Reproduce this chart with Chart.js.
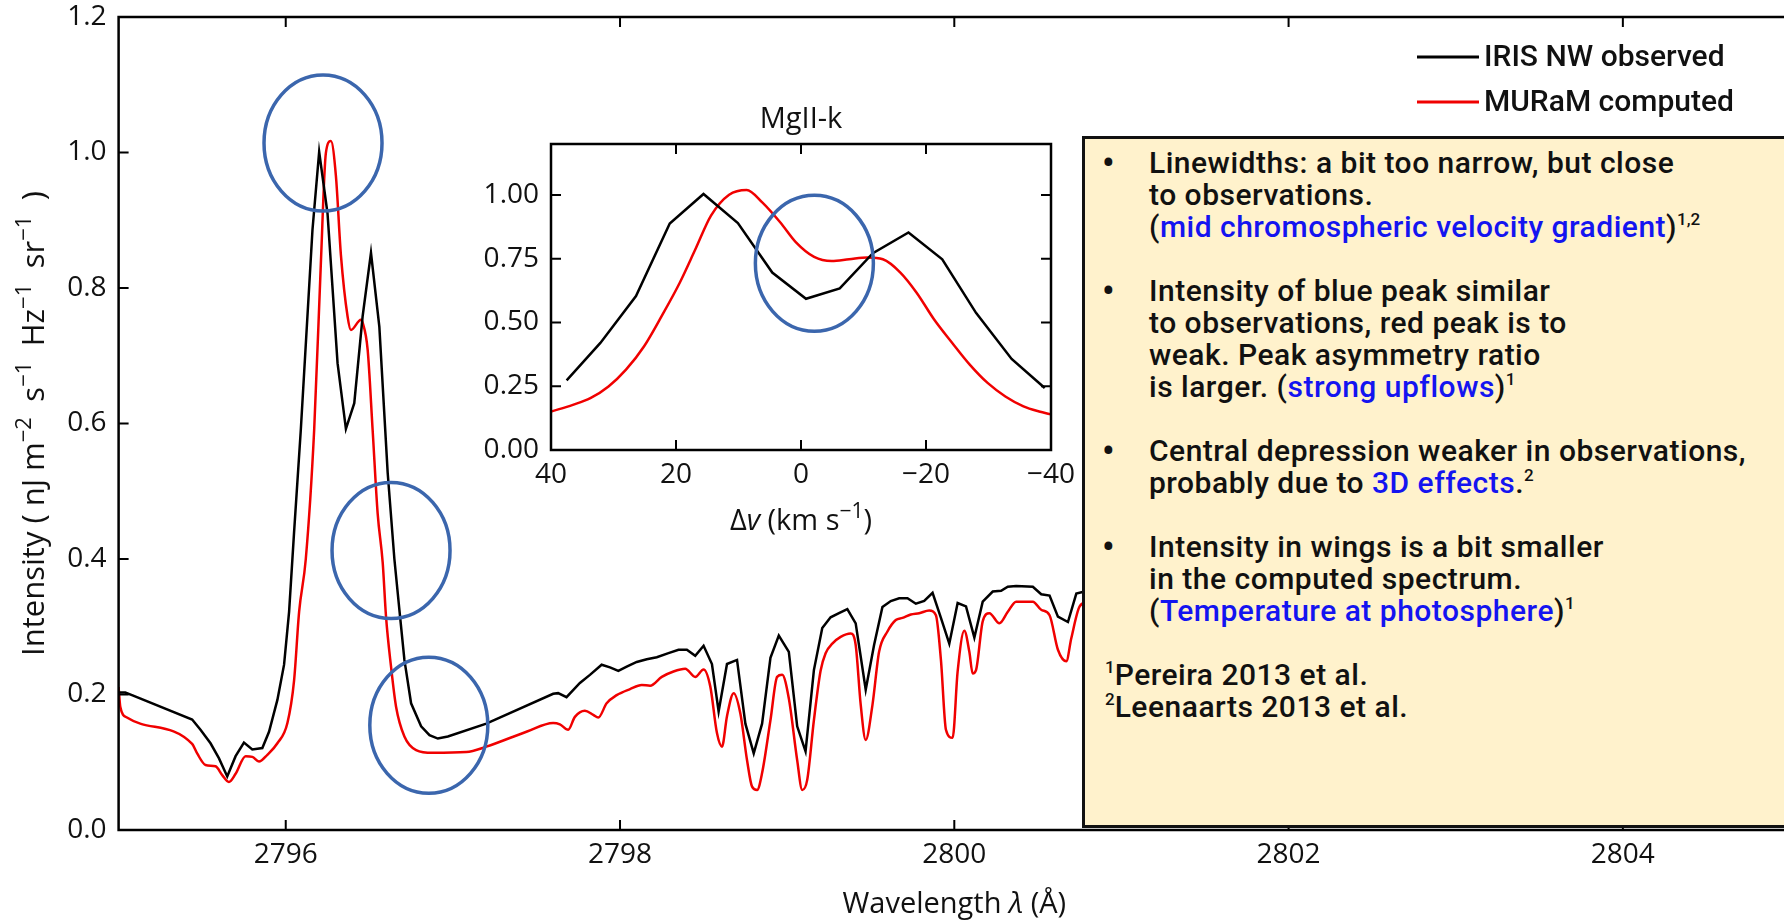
<!DOCTYPE html>
<html>
<head>
<meta charset="utf-8">
<title>MgII k: IRIS vs MURaM</title>
<script src="https://cdn.jsdelivr.net/npm/chart.js@4.4.1/dist/chart.umd.min.js"></script>
<style>
  html, body { margin: 0; padding: 0; background: #fff; }
  #page { position: relative; width: 1784px; height: 921px; overflow: hidden; }
  #mainCanvas { position: absolute; left: 0; top: 0; }
  #insetCanvas { position: absolute; left: 470px; top: 80px; }
  #notes {
    position: absolute; left: 1082px; top: 136px; width: 760px; height: 692px;
    box-sizing: border-box; border: 3px solid #111; background: #fff2cc;
    font-family: Roboto, sans-serif; font-weight: 500; font-size: 30px; line-height: 32px; color: #111;
    padding-top: 8px; letter-spacing: 0.5px;
  }
  .item { position: relative; padding-left: 64px; margin-bottom: 32px; white-space: nowrap; }
  .item .dot { position: absolute; left: 17px; top: 0; font-size: 36px; }
  .blue { color: #1414f0; }
  .sup { font-size: 17px; position: relative; top: -12px; line-height: 0; letter-spacing: 0; }
  .refs { padding-left: 20px; white-space: nowrap; }
</style>
</head>
<body>
<div id="page">
  <canvas id="mainCanvas" width="1790" height="921"></canvas>
  <canvas id="insetCanvas" width="620" height="470"></canvas>
  <div id="notes">
    <div class="item"><span class="dot">•</span>Linewidths: a bit too narrow, but close<br>to observations.<br>(<span class="blue">mid chromospheric velocity gradient</span>)<span class="sup">1,2</span></div>
    <div class="item"><span class="dot">•</span>Intensity of blue peak similar<br>to observations, red peak is to<br>weak. Peak asymmetry ratio<br>is larger. (<span class="blue">strong upflows</span>)<span class="sup">1</span></div>
    <div class="item"><span class="dot">•</span>Central depression weaker in observations,<br>probably due to <span class="blue">3D effects</span>.<span class="sup">2</span></div>
    <div class="item"><span class="dot">•</span>Intensity in wings is a bit smaller<br>in the computed spectrum.<br>(<span class="blue">Temperature at photosphere</span>)<span class="sup">1</span></div>
    <div class="refs"><span class="sup">1</span>Pereira 2013 et al.<br><span class="sup">2</span>Leenaarts 2013 et al.</div>
  </div>
</div>
<script>
/* Main spectrum: IRIS NW observed (black) */
const irisWave = [2795.00, 2795.04, 2795.08, 2795.44, 2795.49, 2795.55, 2795.60, 2795.65, 2795.70, 2795.75,
  2795.80, 2795.86, 2795.90, 2795.95, 2795.99, 2796.02, 2796.05, 2796.09, 2796.16, 2796.20,
  2796.25, 2796.31, 2796.36, 2796.41, 2796.46, 2796.51, 2796.56, 2796.61, 2796.65, 2796.68,
  2796.71, 2796.75, 2796.81, 2796.86, 2796.91, 2796.97, 2797.20, 2797.60, 2797.63, 2797.68,
  2797.76, 2797.82, 2797.89, 2797.94, 2797.99, 2798.04, 2798.10, 2798.16, 2798.22, 2798.29,
  2798.35, 2798.40, 2798.45, 2798.50, 2798.55, 2798.59, 2798.64, 2798.70, 2798.75, 2798.80,
  2798.85, 2798.90, 2798.95, 2799.01, 2799.06, 2799.11, 2799.16, 2799.21, 2799.26, 2799.31,
  2799.36, 2799.41, 2799.47, 2799.52, 2799.57, 2799.62, 2799.67, 2799.72, 2799.77, 2799.82,
  2799.87, 2799.92, 2799.97, 2800.02, 2800.07, 2800.12, 2800.17, 2800.23, 2800.28, 2800.32,
  2800.37, 2800.47, 2800.52, 2800.57, 2800.62, 2800.68, 2800.73, 2800.78, 2800.85];
const irisFlux = [0.203, 0.203, 0.199, 0.163, 0.148, 0.128, 0.106, 0.079, 0.109, 0.129,
  0.119, 0.121, 0.145, 0.192, 0.244, 0.322, 0.440, 0.590, 0.886, 1.001,
  0.910, 0.689, 0.592, 0.630, 0.758, 0.852, 0.743, 0.527, 0.400, 0.325,
  0.251, 0.187, 0.153, 0.140, 0.135, 0.138, 0.157, 0.201, 0.202, 0.196,
  0.217, 0.229, 0.244, 0.240, 0.235, 0.241, 0.248, 0.252, 0.255, 0.261,
  0.266, 0.266, 0.257, 0.272, 0.245, 0.175, 0.245, 0.251, 0.157, 0.113,
  0.157, 0.254, 0.287, 0.263, 0.153, 0.116, 0.236, 0.298, 0.314, 0.320,
  0.326, 0.305, 0.207, 0.273, 0.329, 0.338, 0.342, 0.342, 0.334, 0.338,
  0.350, 0.313, 0.275, 0.335, 0.330, 0.284, 0.337, 0.352, 0.353, 0.359,
  0.360, 0.359, 0.348, 0.346, 0.315, 0.307, 0.349, 0.352, 0.356];

/* Main spectrum: MURaM computed (red) */
const muramWave = [2795.00, 2795.01, 2795.05, 2795.44, 2795.47, 2795.52, 2795.58, 2795.62, 2795.66, 2795.70,
  2795.76, 2795.80, 2795.84, 2795.89, 2795.95, 2796.01, 2796.05, 2796.08, 2796.12, 2796.17,
  2796.21, 2796.24, 2796.27, 2796.30, 2796.33, 2796.37, 2796.39, 2796.45, 2796.46, 2796.49,
  2796.52, 2796.55, 2796.58, 2796.60, 2796.63, 2796.66, 2796.71, 2796.78, 2796.88, 2797.08,
  2797.20, 2797.44, 2797.60, 2797.64, 2797.69, 2797.73, 2797.79, 2797.84, 2797.87, 2797.92,
  2797.98, 2798.06, 2798.13, 2798.18, 2798.25, 2798.32, 2798.39, 2798.45, 2798.50, 2798.54,
  2798.58, 2798.61, 2798.64, 2798.68, 2798.72, 2798.76, 2798.79, 2798.82, 2798.85, 2798.90,
  2798.94, 2798.97, 2799.01, 2799.06, 2799.09, 2799.12, 2799.16, 2799.20, 2799.23, 2799.27,
  2799.32, 2799.38, 2799.41, 2799.44, 2799.47, 2799.51, 2799.55, 2799.60, 2799.65, 2799.69,
  2799.74, 2799.79, 2799.85, 2799.89, 2799.92, 2799.95, 2799.99, 2800.02, 2800.06, 2800.09,
  2800.11, 2800.13, 2800.17, 2800.21, 2800.27, 2800.32, 2800.37, 2800.47, 2800.52, 2800.57,
  2800.62, 2800.67, 2800.70, 2800.75, 2800.80, 2800.85];
const muramFlux = [0.211, 0.182, 0.166, 0.127, 0.113, 0.096, 0.094, 0.081, 0.071, 0.083,
  0.109, 0.108, 0.101, 0.111, 0.128, 0.158, 0.221, 0.322, 0.400, 0.590,
  0.836, 0.999, 1.017, 0.966, 0.849, 0.758, 0.738, 0.753, 0.749, 0.709,
  0.590, 0.467, 0.395, 0.315, 0.241, 0.182, 0.138, 0.118, 0.114, 0.115,
  0.123, 0.145, 0.158, 0.156, 0.148, 0.167, 0.176, 0.170, 0.166, 0.187,
  0.199, 0.208, 0.214, 0.213, 0.226, 0.234, 0.238, 0.226, 0.237, 0.212,
  0.143, 0.123, 0.168, 0.202, 0.172, 0.103, 0.064, 0.059, 0.084, 0.162,
  0.226, 0.229, 0.194, 0.103, 0.059, 0.074, 0.162, 0.235, 0.261, 0.275,
  0.285, 0.290, 0.273, 0.185, 0.133, 0.184, 0.263, 0.293, 0.310, 0.313,
  0.318, 0.320, 0.324, 0.317, 0.251, 0.148, 0.136, 0.234, 0.294, 0.263,
  0.231, 0.236, 0.308, 0.320, 0.305, 0.322, 0.337, 0.337, 0.325, 0.317,
  0.266, 0.249, 0.283, 0.330, 0.337, 0.340];

/* Inset: MgII-k, velocity (km/s) vs normalised intensity */
const insetIrisVel = [37.5, 32.1, 26.4, 21.0, 15.6, 10.1, 4.6, -0.8, -6.2, -11.5, -17.2, -22.6, -28.0, -33.7, -39.0];
const insetIrisFlux = [0.273, 0.420, 0.604, 0.888, 1.004, 0.890, 0.696, 0.593, 0.634, 0.772, 0.853, 0.748, 0.538, 0.357, 0.243];
const insetMuramVel = [40.0, 36.5, 33.7, 30.8, 28.0, 25.1, 22.3, 19.4, 16.9, 14.4, 11.5, 8.7, 6.2, 3.3, 0.8,
  -2.1, -4.9, -7.7, -10.6, -13.1, -15.9, -18.5, -21.3, -24.2, -27.0, -29.9, -32.7, -35.6, -38.1, -40.0];
const insetMuramFlux = [0.151, 0.177, 0.203, 0.249, 0.315, 0.407, 0.525, 0.656, 0.787, 0.919, 1.001, 1.020, 0.971, 0.892, 0.814,
  0.757, 0.741, 0.748, 0.755, 0.748, 0.696, 0.617, 0.512, 0.420, 0.335, 0.262, 0.210, 0.171, 0.151, 0.140];

/* Tick values */
const waveTicks = [2796, 2798, 2800, 2802, 2804];
const fluxTicks = [0.0, 0.2, 0.4, 0.6, 0.8, 1.0, 1.2];
const velTicks = [40, 20, 0, -20, -40];
const insetFluxTicks = [0.00, 0.25, 0.50, 0.75, 1.00];

/* Highlight rings (data coordinates) */
const mainRings = [[2796.223, 1.014], [2796.630, 0.4125], [2796.856, 0.1547]];
const insetRings = [[-2.14, 0.732]];

const FAM = "'Open Sans', sans-serif";
Chart.defaults.font.family = FAM;
Chart.defaults.font.size = 28;
Chart.defaults.color = '#111';

const zip = (xs, ys) => xs.map((x, i) => ({ x: x, y: ys[i] }));

// text with superscripts / italics, centred on x
function drawRich(ctx, parts, x, y, size) {
  const fontFor = k => k === 'sup' ? Math.round(size * 0.72) + 'px ' + FAM
    : (k === 'it' ? 'italic ' + size + 'px ' + FAM : size + 'px ' + FAM);
  let w = 0;
  parts.forEach(p => { ctx.font = fontFor(p[1]); w += ctx.measureText(p[0]).width; });
  let cx = x - w / 2;
  ctx.textAlign = 'left';
  ctx.textBaseline = 'alphabetic';
  parts.forEach(p => {
    ctx.font = fontFor(p[1]);
    ctx.fillText(p[0], cx, p[1] === 'sup' ? y - size * 0.42 : y);
    cx += ctx.measureText(p[0]).width;
  });
}

// spines + matplotlib style inward ticks on all four sides
function frame(ctx, chart, len) {
  const a = chart.chartArea, sx = chart.scales.x, sy = chart.scales.y;
  ctx.save();
  ctx.strokeStyle = '#000';
  ctx.lineWidth = 2;
  ctx.beginPath();
  sx.ticks.forEach(t => {
    const px = sx.getPixelForValue(t.value);
    ctx.moveTo(px, a.bottom); ctx.lineTo(px, a.bottom - len);
    ctx.moveTo(px, a.top); ctx.lineTo(px, a.top + len);
  });
  sy.ticks.forEach(t => {
    const py = sy.getPixelForValue(t.value);
    ctx.moveTo(a.left, py); ctx.lineTo(a.left + len, py);
    ctx.moveTo(a.right, py); ctx.lineTo(a.right - len, py);
  });
  ctx.stroke();
  ctx.lineWidth = 2.5;
  ctx.strokeRect(a.left, a.top, a.right - a.left, a.bottom - a.top);
  ctx.restore();
}

function rings(ctx, chart, list) {
  const sx = chart.scales.x, sy = chart.scales.y;
  ctx.save();
  ctx.strokeStyle = '#3b66ad';
  ctx.lineWidth = 3.5;
  list.forEach(r => {
    ctx.beginPath();
    ctx.ellipse(sx.getPixelForValue(r[0]), sy.getPixelForValue(r[1]), 59, 68, 0, 0, Math.PI * 2);
    ctx.stroke();
  });
  ctx.restore();
}

// keep chart area fixed: drop the label overhang padding chart.js adds
const fixX = h => s => { s.height = h; s.paddingLeft = 0; s.paddingRight = 0; };
const fixY = w => s => { s.width = w; s.paddingTop = 0; s.paddingBottom = 0; };

const T = '\u2009\u2009\u2009';
const mainDecor = {
  id: 'mainDecor',
  afterDraw(chart) {
    const ctx = chart.ctx, a = chart.chartArea;
    frame(ctx, chart, 10);
    rings(ctx, chart, mainRings);
    ctx.save();
    ctx.fillStyle = '#111';
    drawRich(ctx, [['Wavelength ', ''], ['λ', 'it'], [' (Å)', '']], (a.left + a.right) / 2, 913, 29);
    ctx.translate(44, (a.top + a.bottom) / 2);
    ctx.rotate(-Math.PI / 2);
    drawRich(ctx, [['Intensity ( nJ m', ''], ['−2', 'sup'], [T + 's', ''], ['−1', 'sup'], [T + 'Hz', ''], ['−1', 'sup'], [T + 'sr', ''], ['−1', 'sup'], [T + ')', '']], 0, 0, 31);
    ctx.restore();
    // legend
    ctx.save();
    ctx.font = '500 30px Roboto, sans-serif';
    ctx.textBaseline = 'middle';
    ctx.textAlign = 'left';
    chart.data.datasets.forEach((ds, i) => {
      const yy = 57 + i * 45;
      ctx.strokeStyle = ds.borderColor;
      ctx.lineWidth = 3;
      ctx.beginPath(); ctx.moveTo(1417, yy); ctx.lineTo(1479, yy); ctx.stroke();
      ctx.fillStyle = '#111';
      ctx.fillText(ds.label, 1484, yy + 1);
    });
    ctx.restore();
  }
};

const insetDecor = {
  id: 'insetDecor',
  afterDraw(chart) {
    const ctx = chart.ctx, a = chart.chartArea;
    frame(ctx, chart, 10);
    rings(ctx, chart, insetRings);
    ctx.save();
    ctx.fillStyle = '#111';
    drawRich(ctx, [['MgII-k', '']], (a.left + a.right) / 2, 48, 29);
    drawRich(ctx, [['Δ', ''], ['v', 'it'], [' (km s', ''], ['−1', 'sup'], [')', '']], (a.left + a.right) / 2, 450, 29);
    ctx.restore();
  }
};

const mainChart = new Chart(document.getElementById('mainCanvas').getContext('2d'), {
  type: 'line',
  data: {
    datasets: [
      { label: 'IRIS NW observed', data: zip(irisWave, irisFlux), borderColor: '#000', borderWidth: 2.5, pointRadius: 0, tension: 0 },
      { label: 'MURaM computed', data: zip(muramWave, muramFlux), borderColor: '#f00000', borderWidth: 2.5, pointRadius: 0, cubicInterpolationMode: 'monotone' }
    ]
  },
  options: {
    responsive: false,
    animation: false,
    devicePixelRatio: 1,
    layout: { padding: { top: 17, right: 0, left: 0, bottom: 0 } },
    plugins: { legend: { display: false }, tooltip: { enabled: false } },
    scales: {
      x: {
        type: 'linear', min: 2795, max: 2805,
        afterFit: fixX(91),
        afterBuildTicks: s => { s.ticks = waveTicks.map(v => ({ value: v })); },
        ticks: { padding: 8, maxRotation: 0, callback: v => String(v) },
        grid: { display: false, drawTicks: false },
        border: { display: false }
      },
      y: {
        type: 'linear', min: 0, max: 1.2,
        afterFit: fixY(118.6),
        afterBuildTicks: s => { s.ticks = fluxTicks.map(v => ({ value: v })); },
        ticks: { padding: 12, callback: v => v.toFixed(1) },
        grid: { display: false, drawTicks: false },
        border: { display: false }
      }
    }
  },
  plugins: [mainDecor]
});

const insetChart = new Chart(document.getElementById('insetCanvas').getContext('2d'), {
  type: 'line',
  data: {
    datasets: [
      { label: 'IRIS', data: zip(insetIrisVel, insetIrisFlux), borderColor: '#000', borderWidth: 2.5, pointRadius: 0, tension: 0 },
      { label: 'MURaM', data: zip(insetMuramVel, insetMuramFlux), borderColor: '#f00000', borderWidth: 2.5, pointRadius: 0, cubicInterpolationMode: 'monotone' }
    ]
  },
  options: {
    responsive: false,
    animation: false,
    devicePixelRatio: 1,
    layout: { padding: { top: 64, right: 39, left: 0, bottom: 0 } },
    plugins: { legend: { display: false }, tooltip: { enabled: false } },
    scales: {
      x: {
        type: 'linear', min: -40, max: 40, reverse: true,
        afterFit: fixX(100),
        afterBuildTicks: s => { s.ticks = velTicks.map(v => ({ value: v })); },
        ticks: { padding: 8, maxRotation: 0, callback: v => String(v).replace('-', '\u2212') },
        grid: { display: false, drawTicks: false },
        border: { display: false }
      },
      y: {
        type: 'linear', min: 0, max: 1.2,
        afterFit: fixY(81),
        afterBuildTicks: s => { s.ticks = insetFluxTicks.map(v => ({ value: v })); },
        ticks: { padding: 12, callback: v => v.toFixed(2) },
        grid: { display: false, drawTicks: false },
        border: { display: false }
      }
    }
  },
  plugins: [insetDecor]
});
</script>
</body>
</html>
